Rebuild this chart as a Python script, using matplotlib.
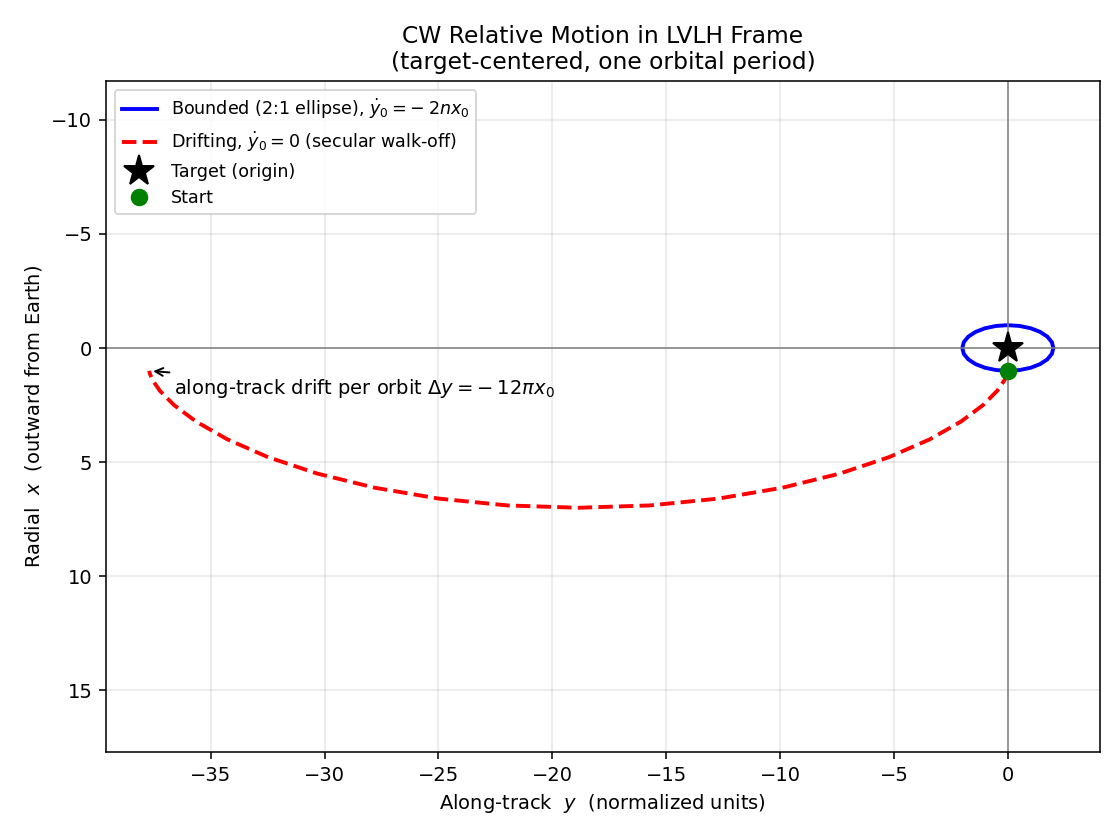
import matplotlib
matplotlib.use("Agg")
import matplotlib.pyplot as plt

# bounded 2:1 ellipse (along-track y, radial x)
ell_y = [0.0, -0.518, -1.0, -1.414, -1.732, -1.932, -2.0, -1.932, -1.732, -1.414, -1.0, -0.518,
         0.0, 0.518, 1.0, 1.414, 1.732, 1.932, 2.0, 1.932, 1.732, 1.414, 1.0, 0.518, 0.0]
ell_x = [1.0, 0.966, 0.866, 0.707, 0.5, 0.259, 0.0, -0.259, -0.5, -0.707, -0.866, -0.966,
         -1.0, -0.966, -0.866, -0.707, -0.5, -0.259, 0.0, 0.259, 0.5, 0.707, 0.866, 0.966, 1.0]

# drifting trajectory
drift_y = [0.0, -0.018, -0.142, -0.470, -1.087, -2.059, -3.425, -5.200, -7.370, -9.895,
           -12.708, -15.726, -18.850, -21.973, -24.991, -27.805, -30.329, -32.499, -34.274,
           -35.641, -36.612, -37.229, -37.558, -37.681, -37.699]
drift_x = [1.0, 1.102, 1.402, 1.879, 2.5, 3.224, 4.0, 4.776, 5.5, 6.121, 6.598, 6.898, 7.0,
           6.898, 6.598, 6.121, 5.5, 4.776, 4.0, 3.224, 2.5, 1.879, 1.402, 1.102, 1.0]

target = (0.0, 0.0)
start = (0.0, 1.0)
drift_end = (-37.699, 1.0)

fig, ax = plt.subplots(figsize=(8, 6), dpi=140)
fig.subplots_adjust(left=0.0946, right=0.982, top=0.9036, bottom=0.1048)
ax.plot(ell_y, ell_x, color='blue', lw=2, label=r'Bounded (2:1 ellipse), $\dot{y}_0 = -\:2nx_0$')
ax.plot(drift_y, drift_x, color='red', lw=2, ls='--', label=r'Drifting, $\dot{y}_0=0$ (secular walk-off)')
ax.plot(target[0], target[1], '*', color='black', ms=16, label='Target (origin)', zorder=5)
ax.plot(start[0], start[1], 'o', color='green', ms=8, label='Start', zorder=6)
ax.axhline(0, color='gray', lw=0.8)
ax.axvline(0, color='gray', lw=0.8)
ax.annotate(r'along-track drift per orbit $\Delta y = -\:12\pi x_0$', xy=drift_end,
            xytext=(-36.6, 2.0), fontsize=10, arrowprops=dict(arrowstyle='->', color='black'))
ax.set_xlim(-39.6, 4.04)
ax.set_ylim(17.7, -11.7)
ax.set_xlabel('Along-track  $y$  (normalized units)')
ax.set_ylabel('Radial  $x$  (outward from Earth)')
ax.set_title('CW Relative Motion in LVLH Frame\n(target-centered, one orbital period)', fontsize=12)
ax.grid(True, alpha=0.3)
ax.legend(loc='upper left', fontsize=9)
plt.savefig('out.png')
